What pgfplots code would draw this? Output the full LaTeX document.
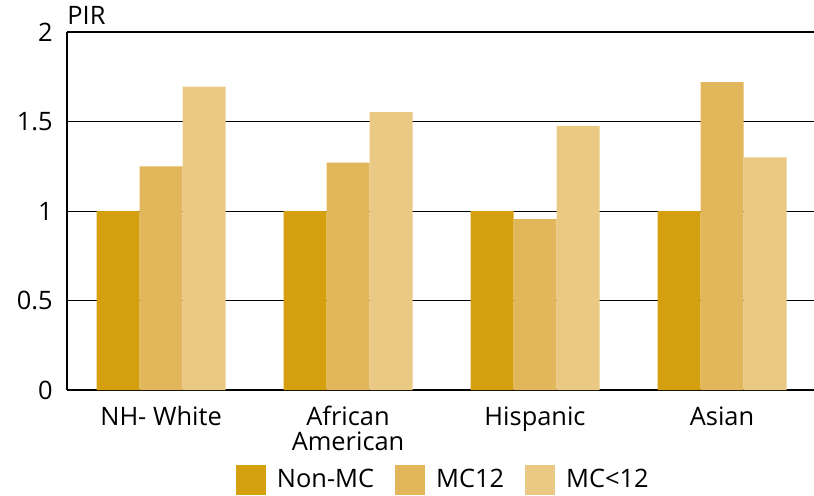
\documentclass[border=0pt]{standalone}
\usepackage{pgfplots}
\pgfplotsset{compat=1.18}
\usepackage{fontspec}
\setmainfont{Open Sans}
\definecolor{cA}{HTML}{D4A00F}
\definecolor{cB}{HTML}{E2B65A}
\definecolor{cC}{HTML}{EAC985}
\begin{document}
\fontsize{12.7}{12.5}\selectfont
\begin{tikzpicture}
\begin{axis}[
  anchor=south west, at={(0,0)},
  scale only axis, width=373.5pt, height=179pt,
  xmin=-0.503, xmax=3.492, ymin=0, ymax=2,
  axis x line=bottom, axis y line=left,
  axis line style={line width=1pt, -},
  ybar=0pt, bar width=21.5pt,
  ytick={0,0.5,1,1.5}, extra y ticks={2},
  extra y tick style={grid style={black, line width=1.3pt}},
  yticklabels={0,0.5,1,1.5},
  ymajorgrids, grid style={black, line width=0.5pt},
  major tick length=0pt,
  xtick={0,1,2,3},
  xticklabels={NH- White, African\\American, Hispanic, Asian},
  xticklabel style={align=center, anchor=north, inner sep=0pt, yshift=-8pt, font=\fontsize{12.7}{12.5}\selectfont},
  yticklabel style={anchor=east, inner sep=0pt, xshift=-7pt},
  /pgf/number format/assume math mode=true,
  ticklabel style={font=\fontsize{12.7}{12.5}\selectfont},
  legend columns=-1,
  legend style={draw=none, fill=none, at={(rel axis cs:0.2262,-0.2514)}, anchor=west, inner sep=0pt, outer sep=0pt,
    font=\fontsize{12.7}{12.5}\selectfont,
    nodes={inner xsep=5.5pt},
    /tikz/every even column/.append style={column sep=5pt}},
  legend image code/.code={\fill[#1] (0pt,-7.5pt) rectangle (15pt,7.5pt);},
  clip=false,
]
\addplot[fill=cA, draw=none] coordinates {(0,1) (1,1) (2,1) (3,1)};
\addplot[fill=cB, draw=none] coordinates {(0,1.25) (1,1.27) (2,0.955) (3,1.72)};
\addplot[fill=cC, draw=none] coordinates {(0,1.695) (1,1.553) (2,1.476) (3,1.30)};
\legend{Non-MC, MC12, MC<12}
\node[anchor=base west, inner sep=0pt, yshift=4pt, font=\fontsize{12.7}{12.5}\selectfont] at (rel axis cs:0,1) {PIR};
\end{axis}
\pgfresetboundingbox
\path[use as bounding box] (-33.5pt,-52.5pt) rectangle (373.5pt,195pt);
\end{tikzpicture}
\end{document}
